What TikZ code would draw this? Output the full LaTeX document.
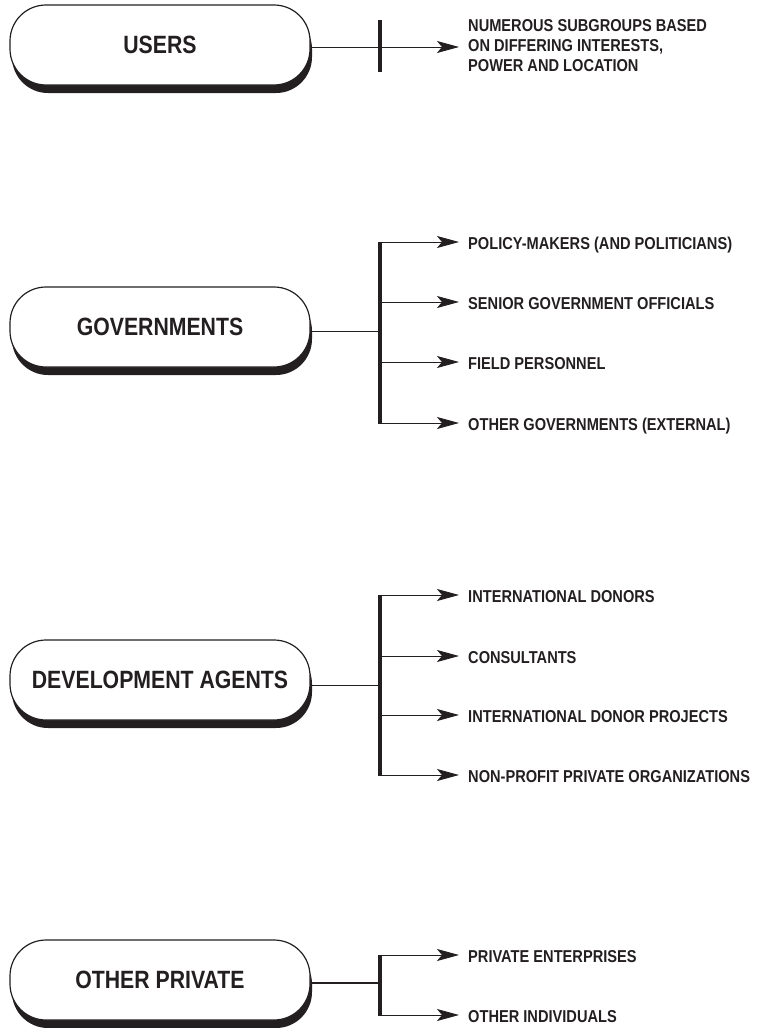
\documentclass[tikz,border=0pt]{standalone}
\usepackage{fontspec}
\setmainfont{Liberation Sans}[FakeStretch=0.85]
\usetikzlibrary{positioning, calc, arrows.meta, shadows}
\definecolor{ink}{HTML}{231F20}
\newcommand\grpfont{\fontsize{25}{28}\selectfont\bfseries}
\newcommand\lblfont{\fontsize{17.2}{20}\selectfont\bfseries}

\begin{document}
\begin{tikzpicture}
    [
        x=1pt, y=-1pt,
        basic/.style = {text=ink, text centered},
        group/.style = {basic, draw=ink, line width=1.2pt, fill=white, rounded corners=36pt,
                        minimum width=300pt, minimum height=80pt, font=\grpfont,
                        drop shadow={shadow xshift=2pt, shadow yshift=-8pt, fill=ink, opacity=1}},
        item/.style = {text=ink, anchor=west, inner xsep=9pt, inner ysep=0pt, font=\lblfont,
                       text height=15pt, text depth=0pt},
        multi/.style = {text=ink, anchor=west, inner xsep=9pt, inner ysep=0pt, font=\lblfont, align=left},
        link/.style = {draw=ink, line width=0.9pt},
        bar/.style = {draw=ink, line width=3.5pt},
        >={Stealth[length=22pt, width=12pt, inset=5pt]}
    ]
    \useasboundingbox (0,0) rectangle (763,1028);

    % users
    \node [group] (users) at (160,45) {USERS};
    \coordinate (usersbar) at (380,47);
    \node [multi] (subgroups) at (459,46) {NUMEROUS SUBGROUPS BASED\\ON DIFFERING INTERESTS,\\POWER AND LOCATION};
    \coordinate (ubtop) at (380,20);
    \coordinate (ubbot) at (380,72);
    \draw [bar] (ubtop) -- (ubbot);
    \draw [link, ->] (users.east |- usersbar) -- (subgroups.west |- usersbar);

    % governments
    \node [group] (gov) at (160,327) {GOVERNMENTS};
    \coordinate (govbar) at (380,331);
    \node [item] (policy) at (459,242) {POLICY-MAKERS (AND POLITICIANS)};
    \node [item] (senior) at (459,302) {SENIOR GOVERNMENT OFFICIALS};
    \node [item] (field) at (459,362) {FIELD PERSONNEL};
    \node [item] (external) at (459,423) {OTHER GOVERNMENTS (EXTERNAL)};
    \draw [link] (gov.east |- govbar) -- (govbar);
    \draw [bar] ($(govbar |- policy)+(0,-0.5)$) -- ($(govbar |- external)+(0,0.5)$);
    \foreach \i in {policy, senior, field, external} \draw [link, ->] (govbar |- \i) -- (\i.west);

    % development agents
    \node [group] (dev) at (160,680) {DEVELOPMENT AGENTS};
    \coordinate (devbar) at (380,685);
    \node [item] (donors) at (459,595) {INTERNATIONAL DONORS};
    \node [item] (consult) at (459,656) {CONSULTANTS};
    \node [item] (projects) at (459,715) {INTERNATIONAL DONOR PROJECTS};
    \node [item] (nonprofit) at (459,775) {NON-PROFIT PRIVATE ORGANIZATIONS};
    \draw [link] (dev.east |- devbar) -- (devbar);
    \draw [bar] ($(devbar |- donors)+(0,-0.5)$) -- ($(devbar |- nonprofit)+(0,0.5)$);
    \foreach \i in {donors, consult, projects, nonprofit} \draw [link, ->] (devbar |- \i) -- (\i.west);

    % other private
    \node [group] (private) at (160,980) {OTHER PRIVATE};
    \coordinate (privbar) at (380,983);
    \node [item] (enterprises) at (459,955) {PRIVATE ENTERPRISES};
    \node [item] (individuals) at (459,1015) {OTHER INDIVIDUALS};
    \draw [link, line width=2.4pt] (private.east |- privbar) -- (privbar);
    \draw [bar] ($(privbar |- enterprises)+(0,-0.5)$) -- ($(privbar |- individuals)+(0,0.5)$);
    \foreach \i in {enterprises, individuals} \draw [link, ->] (privbar |- \i) -- (\i.west);

\end{tikzpicture}
\end{document}
